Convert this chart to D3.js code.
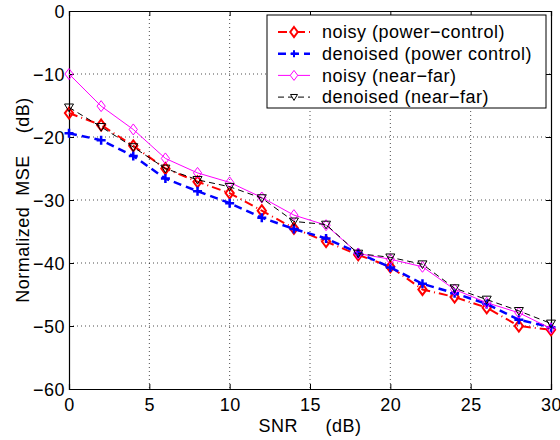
<!DOCTYPE html>
<html>
<head>
<meta charset="utf-8">
<script src="https://cdn.jsdelivr.net/npm/d3@7"></script>
<style>
body { margin: 0; background: #fff; }
text { font-family: "Liberation Sans", Arial, sans-serif; }
</style>
</head>
<body>
<script>
let width = 560;
let height = 440;
let margin = { top: 11, right: 9, bottom: 51, left: 69 };

let snr = [0, 2, 4, 6, 8, 10, 12, 14, 16, 18, 20, 22, 24, 26, 28, 30];
let noisyPC   = [-16.2, -18.1, -21.4, -25.0, -27.1, -28.9, -31.7, -34.5, -36.6, -38.7, -40.6, -44.2, -45.4, -47.1, -50.0, -50.6];
let denoisedPC = [-19.4, -20.5, -23.0, -26.6, -28.6, -30.5, -32.8, -34.6, -36.1, -38.4, -40.7, -43.3, -44.8, -46.5, -49.0, -50.2];
let noisyNF   = [-10.0, -15.1, -18.8, -23.4, -25.7, -27.2, -29.6, -32.4, -34.0, -38.5, -39.4, -40.6, -44.2, -46.3, -47.9, -50.4];
let denoisedNF = [-15.3, -18.4, -21.6, -25.0, -26.8, -27.9, -29.7, -33.4, -33.9, -38.5, -39.1, -40.2, -44.0, -45.8, -47.6, -49.6];

let xTicks = [0, 5, 10, 15, 20, 25, 30];
let yTicks = [0, -10, -20, -30, -40, -50, -60];
let names = ["noisy (power\u2212control)", "denoised (power control)", "noisy (near\u2212far)", "denoised (near\u2212far)"];

let series = [
  { name: names[0], values: noisyPC, color: "#ff0000", width: 2, dash: "9,4,1,4", marker: "diamond" },
  { name: names[1], values: denoisedPC, color: "#0000ff", width: 2.5, dash: "8,5", marker: "plus" },
  { name: names[2], values: noisyNF, color: "#ff00ff", width: 1, dash: null, marker: "diamond" },
  { name: names[3], values: denoisedNF, color: "#000000", width: 1, dash: "6,4", marker: "triangle" }
];

let svg = d3.select("body").append("svg")
  .attr("width", width)
  .attr("height", height);

let x = d3.scaleLinear().domain([0, 30]).range([margin.left, width - margin.right]);
let y = d3.scaleLinear().domain([-60, 0]).range([height - margin.bottom, margin.top]);

let fmt = d => d < 0 ? "\u2212" + Math.abs(d) : "" + d;

// grid
svg.append("g").selectAll("line").data(xTicks.slice(1, -1)).enter().append("line")
  .attr("x1", d => x(d)).attr("x2", d => x(d))
  .attr("y1", y(0)).attr("y2", y(-60))
  .attr("stroke", "#000").attr("stroke-width", 0.7).attr("stroke-dasharray", "1,3");
svg.append("g").selectAll("line").data(yTicks.slice(1, -1)).enter().append("line")
  .attr("x1", x(0)).attr("x2", x(30))
  .attr("y1", d => y(d)).attr("y2", d => y(d))
  .attr("stroke", "#000").attr("stroke-width", 0.7).attr("stroke-dasharray", "1,3");

// axes
let xAxis = svg.append("g").attr("transform", `translate(0,${y(-60)})`)
  .call(d3.axisBottom(x).tickValues(xTicks).tickSize(-5).tickPadding(9).tickFormat(fmt));
let xTop = svg.append("g").attr("transform", `translate(0,${y(0)})`)
  .call(d3.axisTop(x).tickValues(xTicks).tickSize(-5).tickFormat(""));
let yAxis = svg.append("g").attr("transform", `translate(${x(0)},0)`)
  .call(d3.axisLeft(y).tickValues(yTicks).tickSize(-5).tickPadding(4).tickFormat(fmt));
let yRight = svg.append("g").attr("transform", `translate(${x(30)},0)`)
  .call(d3.axisRight(y).tickValues(yTicks).tickSize(-5).tickFormat(""));

[xAxis, xTop, yAxis, yRight].forEach(g => {
  g.select(".domain").attr("stroke", "#000").attr("stroke-width", 1.2);
  g.selectAll(".tick line").attr("stroke", "#000");
  g.selectAll("text").attr("fill", "#000").style("font-size", "18px").style("letter-spacing", "0.5px");
});
yAxis.selectAll("text").attr("dy", "0.35em");

// marker shapes
function markerPath(type, s) {
  if (type === "diamond") return `M0,${-s}L${s * 0.75},0L0,${s}L${-s * 0.75},0Z`;
  if (type === "plus") return `M${-s},0L${s},0M0,${-s}L0,${s}`;
  if (type === "triangle") return `M${-s},${-s * 0.75}L${s},${-s * 0.75}L0,${s * 0.95}Z`;
}

let line = d3.line().x((d, i) => x(snr[i])).y(d => y(d));

let plot = svg.append("g");
series.forEach(s => {
  plot.append("path")
    .datum(s.values)
    .attr("d", line)
    .attr("fill", "none")
    .attr("stroke", s.color)
    .attr("stroke-width", s.width)
    .attr("stroke-dasharray", s.dash);
  plot.append("g").selectAll("path").data(s.values).enter().append("path")
    .attr("transform", (d, i) => `translate(${x(snr[i])},${y(d)})`)
    .attr("d", markerPath(s.marker, s.marker === "diamond" ? 5.5 : 4.5))
    .attr("fill", "none")
    .attr("stroke", s.color)
    .attr("stroke-width", s.marker === "plus" ? 2.5 : s.width);
});

// axis labels
svg.append("text")
  .attr("x", x(15)).attr("y", 432)
  .attr("text-anchor", "middle")
  .style("font-size", "18px")
  .style("letter-spacing", "0.5px")
  .style("white-space", "pre")
  .text("SNR     (dB)");
svg.append("text")
  .attr("transform", `translate(29,${y(-30)}) rotate(-90)`)
  .attr("text-anchor", "middle")
  .style("font-size", "18px")
  .style("letter-spacing", "0.5px")
  .style("white-space", "pre")
  .text("Normalized  MSE    (dB)");

// legend
let legend = svg.append("g").attr("transform", "translate(267,15)");
legend.append("rect")
  .attr("width", 279).attr("height", 93)
  .attr("fill", "#fff").attr("stroke", "#000").attr("stroke-width", 1);
series.forEach((s, i) => {
  let g = legend.append("g").attr("transform", `translate(0,${17 + i * 21.7})`);
  g.append("line")
    .attr("x1", 11).attr("x2", 43).attr("y1", 0).attr("y2", 0)
    .attr("stroke", s.color).attr("stroke-width", s.width)
    .attr("stroke-dasharray", s.dash);
  g.append("path")
    .attr("transform", "translate(27,0)")
    .attr("d", markerPath(s.marker, s.marker === "diamond" ? 5 : 3.5))
    .attr("fill", "#fff")
    .attr("stroke", s.color)
    .attr("stroke-width", s.marker === "plus" ? 2 : s.width);
  g.append("text")
    .attr("x", 55).attr("y", 0).attr("dy", "0.35em")
    .style("font-size", "18px")
    .style("letter-spacing", "0.5px")
    .text(s.name);
});
</script>
</body>
</html>
